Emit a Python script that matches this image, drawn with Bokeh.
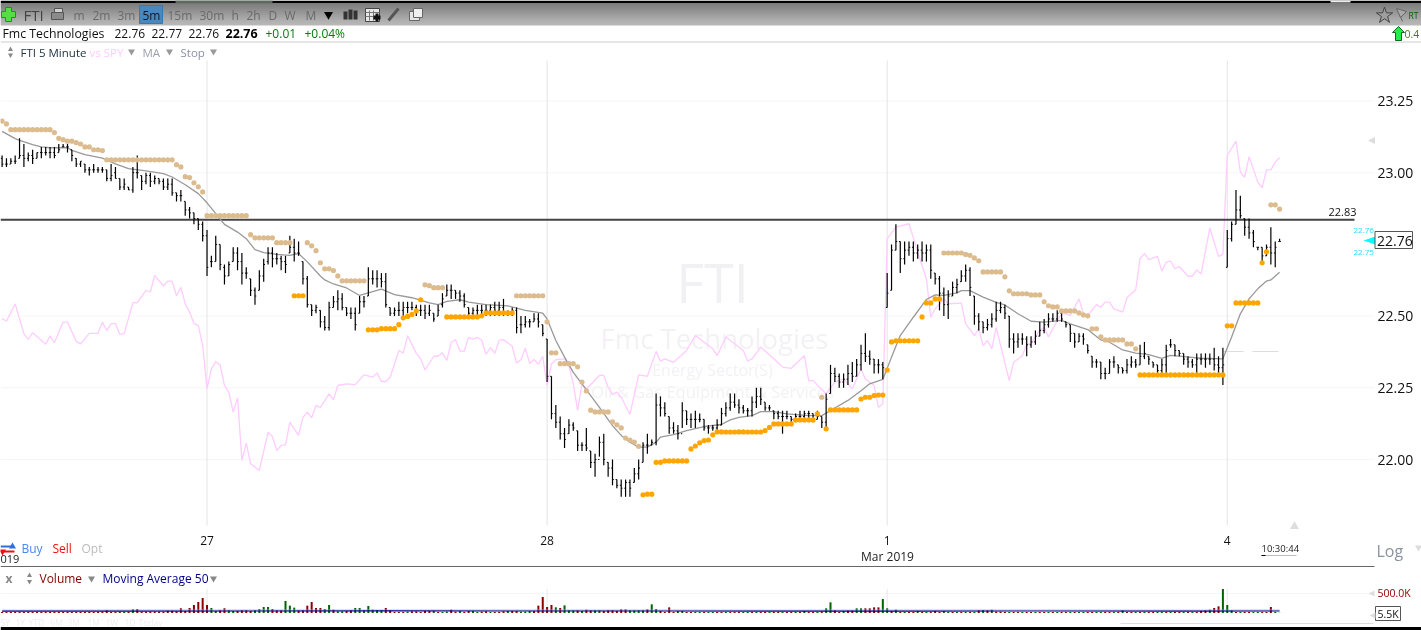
from bokeh.plotting import figure
from bokeh.models import Range1d, LinearAxis, FixedTicker, NumeralTickFormatter
from bokeh.core.properties import value
from bokeh.embed import file_html
from bokeh.resources import INLINE

highs = [
23.06,23.05,23.05,23.06,23.12,23.10,23.07,23.08,23.07,23.09,
23.09,23.09,23.09,23.10,23.10,23.10,23.08,23.05,23.04,23.03,
23.02,23.03,23.02,23.02,23.01,23.03,23.02,22.98,22.98,22.95,
23.02,23.06,22.99,23.00,23.00,22.99,22.98,22.98,22.98,22.98,
22.93,22.94,22.90,22.88,22.86,22.84,22.83,22.80,22.71,22.78,
22.75,22.68,22.69,22.74,22.74,22.72,22.67,22.63,22.60,22.66,
22.70,22.74,22.74,22.72,22.71,22.71,22.78,22.77,22.76,22.69,
22.64,22.54,22.54,22.52,22.50,22.55,22.57,22.59,22.58,22.53,
22.53,22.53,22.57,22.57,22.67,22.66,22.66,22.65,22.65,22.53,
22.53,22.55,22.55,22.55,22.55,22.54,22.54,22.54,22.54,22.51,
22.54,22.58,22.61,22.61,22.59,22.59,22.58,22.53,22.53,22.54,
22.54,22.54,22.54,22.55,22.55,22.56,22.52,22.53,22.53,22.50,
22.50,22.49,22.51,22.51,22.47,22.42,22.29,22.19,22.15,22.11,
22.14,22.13,22.10,22.06,22.11,22.03,22.02,22.08,22.09,21.99,
22.00,21.93,21.93,21.93,21.93,21.97,22.00,22.06,22.09,22.07,
22.23,22.22,22.20,22.15,22.13,22.12,22.20,22.17,22.16,22.17,
22.16,22.14,22.12,22.12,22.14,22.18,22.20,22.23,22.23,22.21,
22.19,22.18,22.22,22.25,22.25,22.20,22.19,22.17,22.17,22.17,
22.17,22.15,22.16,22.17,22.17,22.17,22.16,22.17,22.15,22.23,
22.33,22.32,22.30,22.30,22.33,22.34,22.35,22.40,22.44,22.38,
22.35,22.35,22.34,22.65,22.75,22.82,22.76,22.76,22.76,22.76,
22.75,22.76,22.75,22.75,22.65,22.64,22.60,22.59,22.62,22.63,
22.66,22.68,22.67,22.57,22.51,22.48,22.49,22.51,22.55,22.55,
22.54,22.50,22.44,22.44,22.44,22.43,22.43,22.45,22.48,22.49,
22.51,22.51,22.52,22.52,22.48,22.47,22.44,22.44,22.44,22.40,
22.36,22.35,22.34,22.32,22.35,22.36,22.33,22.32,22.35,22.36,
22.35,22.40,22.41,22.36,22.34,22.33,22.35,22.40,22.42,22.40,
22.38,22.37,22.36,22.35,22.37,22.37,22.37,22.37,22.39,22.36,
22.39,22.80,22.83,22.94,22.92,22.84,22.84,22.80,22.74,22.74,
22.75,22.81,22.76,22.77]

lows = [
23.02,23.02,23.03,23.03,23.05,23.02,23.04,23.03,23.05,23.05,
23.06,23.05,23.05,23.07,23.09,23.07,23.04,23.02,23.02,23.00,
22.99,23.00,23.00,23.00,22.97,22.97,22.98,22.94,22.94,22.94,
22.93,22.98,22.94,22.96,22.95,22.96,22.96,22.94,22.94,22.92,
22.90,22.90,22.85,22.84,22.82,22.80,22.76,22.64,22.67,22.69,
22.66,22.61,22.64,22.69,22.66,22.61,22.63,22.57,22.54,22.59,
22.62,22.68,22.67,22.68,22.66,22.65,22.72,22.69,22.71,22.61,
22.53,22.50,22.51,22.46,22.45,22.45,22.53,22.52,22.52,22.50,
22.49,22.45,22.51,22.53,22.57,22.61,22.60,22.60,22.53,22.50,
22.50,22.50,22.49,22.51,22.52,22.50,22.50,22.49,22.50,22.48,
22.50,22.53,22.57,22.56,22.56,22.55,22.53,22.50,22.49,22.50,
22.50,22.50,22.50,22.50,22.50,22.50,22.50,22.50,22.44,22.44,
22.46,22.46,22.48,22.46,22.43,22.27,22.14,22.11,22.07,22.04,
22.09,22.10,22.03,22.03,22.03,21.97,21.94,22.01,21.98,21.94,
21.91,21.90,21.87,21.87,21.87,21.92,21.93,21.99,22.02,22.05,
22.05,22.15,22.15,22.09,22.09,22.07,22.11,22.12,22.11,22.11,
22.13,22.10,22.09,22.10,22.10,22.12,22.15,22.17,22.18,22.16,
22.16,22.15,22.15,22.18,22.19,22.17,22.17,22.14,22.14,22.09,
22.14,22.12,22.13,22.14,22.14,22.14,22.13,22.14,22.11,22.11,
22.23,22.27,22.25,22.25,22.26,22.27,22.29,22.31,22.34,22.33,
22.30,22.30,22.28,22.53,22.59,22.73,22.65,22.68,22.71,22.69,
22.70,22.69,22.69,22.63,22.61,22.52,22.50,22.49,22.57,22.58,
22.62,22.62,22.57,22.47,22.45,22.44,22.45,22.46,22.48,22.51,
22.49,22.39,22.37,22.39,22.40,22.36,22.39,22.40,22.43,22.44,
22.46,22.48,22.48,22.48,22.46,22.41,22.39,22.41,22.40,22.37,
22.32,22.32,22.28,22.28,22.30,22.32,22.30,22.30,22.30,22.32,
22.32,22.33,22.35,22.33,22.32,22.29,22.29,22.30,22.39,22.36,
22.36,22.33,22.32,22.32,22.30,22.33,22.32,22.33,22.31,22.30,
22.26,22.67,22.76,22.82,22.84,22.78,22.77,22.74,22.73,22.68,
22.71,22.68,22.67,22.76]

closes = [
23.03,23.03,23.04,23.04,23.06,23.05,23.06,23.05,23.07,23.07,
23.07,23.07,23.06,23.08,23.09,23.09,23.06,23.03,23.04,23.01,
23.01,23.01,23.01,23.01,22.98,22.99,22.98,22.95,22.96,22.94,
23.00,23.00,22.97,22.99,22.97,22.98,22.97,22.95,22.96,22.93,
22.92,22.92,22.87,22.86,22.84,22.82,22.78,22.67,22.69,22.75,
22.68,22.64,22.68,22.72,22.69,22.65,22.65,22.59,22.57,22.64,
22.68,22.72,22.70,22.70,22.69,22.68,22.74,22.72,22.72,22.63,
22.54,22.52,22.53,22.48,22.46,22.53,22.55,22.56,22.53,22.51,
22.51,22.47,22.55,22.55,22.63,22.63,22.63,22.62,22.54,22.51,
22.52,22.52,22.53,22.53,22.53,22.52,22.52,22.51,22.52,22.49,
22.52,22.56,22.59,22.59,22.58,22.57,22.54,22.51,22.52,22.52,
22.52,22.52,22.53,22.52,22.53,22.51,22.51,22.52,22.46,22.47,
22.48,22.48,22.49,22.48,22.44,22.29,22.16,22.13,22.09,22.07,
22.12,22.11,22.05,22.05,22.04,21.99,22.00,22.06,22.00,21.97,
21.93,21.91,21.90,21.92,21.90,21.95,21.97,22.05,22.05,22.06,
22.19,22.18,22.16,22.11,22.10,22.09,22.17,22.14,22.14,22.14,
22.14,22.11,22.11,22.11,22.12,22.16,22.18,22.20,22.19,22.18,
22.17,22.17,22.20,22.22,22.21,22.18,22.18,22.16,22.15,22.15,
22.15,22.14,22.15,22.15,22.16,22.16,22.14,22.15,22.13,22.21,
22.30,22.29,22.27,22.28,22.30,22.29,22.33,22.37,22.36,22.35,
22.33,22.33,22.32,22.58,22.73,22.76,22.70,22.73,22.74,22.72,
22.73,22.72,22.73,22.66,22.63,22.58,22.54,22.57,22.60,22.61,
22.64,22.66,22.60,22.50,22.48,22.46,22.47,22.49,22.52,22.53,
22.51,22.42,22.41,22.42,22.42,22.40,22.41,22.43,22.45,22.47,
22.49,22.49,22.51,22.49,22.47,22.44,22.41,22.43,22.42,22.38,
22.34,22.34,22.30,22.30,22.34,22.34,22.32,22.31,22.33,22.34,
22.33,22.36,22.37,22.35,22.33,22.31,22.33,22.38,22.40,22.38,
22.37,22.35,22.34,22.33,22.35,22.35,22.35,22.35,22.33,22.32,
22.33,22.77,22.82,22.87,22.85,22.81,22.79,22.76,22.74,22.71,
22.74,22.72,22.74,22.76]

opens = [
23.05,23.03,23.03,23.04,23.05,23.06,23.05,23.06,23.05,23.07,
23.07,23.07,23.07,23.07,23.09,23.09,23.08,23.05,23.03,23.03,
23.01,23.01,23.01,23.01,23.01,22.98,23.00,22.98,22.95,22.95,
22.94,23.00,22.99,22.97,22.99,22.97,22.98,22.97,22.95,22.96,
22.93,22.92,22.90,22.87,22.86,22.84,22.82,22.78,22.69,22.69,
22.75,22.67,22.64,22.69,22.72,22.69,22.65,22.63,22.59,22.59,
22.64,22.69,22.72,22.70,22.70,22.69,22.72,22.74,22.72,22.69,
22.63,22.54,22.52,22.52,22.48,22.46,22.53,22.55,22.56,22.53,
22.51,22.51,22.51,22.55,22.57,22.63,22.63,22.63,22.62,22.53,
22.51,22.52,22.52,22.53,22.53,22.53,22.52,22.52,22.51,22.51,
22.50,22.54,22.57,22.59,22.59,22.58,22.57,22.53,22.51,22.52,
22.52,22.52,22.52,22.53,22.52,22.53,22.51,22.51,22.52,22.47,
22.47,22.48,22.48,22.49,22.47,22.42,22.29,22.16,22.13,22.09,
22.09,22.12,22.10,22.05,22.05,22.03,21.99,22.00,22.06,21.99,
21.97,21.93,21.91,21.90,21.92,21.92,21.95,21.99,22.05,22.05,
22.06,22.19,22.18,22.15,22.11,22.10,22.09,22.17,22.14,22.14,
22.14,22.14,22.11,22.11,22.11,22.12,22.16,22.18,22.20,22.19,
22.18,22.17,22.17,22.20,22.22,22.20,22.18,22.17,22.16,22.15,
22.15,22.15,22.14,22.15,22.15,22.16,22.16,22.14,22.15,22.13,
22.23,22.30,22.29,22.27,22.28,22.30,22.29,22.33,22.37,22.36,
22.35,22.33,22.33,22.53,22.59,22.73,22.76,22.70,22.73,22.74,
22.72,22.73,22.72,22.73,22.65,22.63,22.58,22.54,22.57,22.60,
22.62,22.64,22.66,22.57,22.50,22.48,22.46,22.47,22.49,22.52,
22.53,22.50,22.42,22.41,22.42,22.42,22.40,22.41,22.43,22.45,
22.47,22.49,22.49,22.51,22.48,22.47,22.44,22.41,22.43,22.40,
22.36,22.34,22.34,22.30,22.30,22.34,22.33,22.32,22.31,22.33,
22.34,22.33,22.36,22.36,22.34,22.33,22.31,22.33,22.40,22.40,
22.38,22.37,22.35,22.34,22.33,22.35,22.35,22.35,22.35,22.33,
22.32,22.67,22.77,22.82,22.87,22.84,22.81,22.79,22.74,22.74,
22.71,22.74,22.72,22.76]

# stop dots, as runs of (first bar, last bar, stop price)
tan_runs = [(0,0,23.18),(1,1,23.17),(2,11,23.15),(12,12,23.14),(13,13,23.12),(14,14,23.115),(15,16,23.11),(17,17,23.105),
(18,18,23.10),(19,20,23.09),(21,22,23.08),(23,23,23.077),(24,39,23.045),(40,40,23.028),(41,41,23.02),(42,42,22.986),(43,43,22.983),
(44,44,22.965),(45,45,22.951),(46,46,22.933),(47,56,22.85),(57,57,22.784),(58,62,22.773),(63,66,22.756),(70,70,22.756),(71,71,22.745),
(72,72,22.728),(73,73,22.686),(74,75,22.665),(76,76,22.659),(77,77,22.64),(78,83,22.623),(97,97,22.609),(98,98,22.606),(99,101,22.599),
(118,124,22.571),(125,125,22.48),(126,127,22.372),(128,131,22.334),(132,132,22.323),(133,133,22.27),(134,134,22.239),(135,135,22.172),
(136,139,22.166),(140,140,22.131),(141,141,22.121),(142,142,22.11),(143,143,22.075),(144,144,22.068),(145,145,22.061),(146,146,22.046),
(188,188,22.217),(216,220,22.72),(221,221,22.715),(222,222,22.712),(223,223,22.703),(224,224,22.693),(225,229,22.654),(230,230,22.637),
(231,231,22.588),(232,235,22.578),(236,238,22.574),(239,239,22.55),(240,240,22.536),(241,242,22.532),(243,246,22.518),(247,247,22.511),
(248,248,22.504),(249,249,22.501),(250,251,22.456),(252,252,22.428),(253,257,22.417),(258,259,22.403),(260,260,22.386),(291,292,22.888),(293,293,22.873)]
orange_runs = [(67,69,22.571),(84,86,22.452),(87,90,22.456),(91,91,22.47),(92,92,22.494),(93,93,22.499),(94,94,22.506),(95,95,22.518),(96,96,22.557),
(102,109,22.497),(110,110,22.501),(111,117,22.511),(147,147,21.877),(148,149,21.879),(150,151,21.99),(152,157,21.995),(158,158,22.037),(159,159,22.047),
(160,160,22.058),(161,161,22.066),(162,162,22.068),(163,163,22.086),(164,174,22.096),(175,175,22.101),(176,176,22.112),(177,181,22.124),(182,186,22.138),
(187,187,22.159),(189,189,22.107),(190,196,22.173),(197,197,22.211),(198,199,22.217),(200,200,22.223),(201,202,22.225),(203,203,22.312),(204,204,22.41),
(205,210,22.414),(211,211,22.497),(212,213,22.546),(214,215,22.56),(261,280,22.295),(281,282,22.466),(283,288,22.546),(289,289,22.686),(290,290,22.724)]

ma_idx = [0,3,4,7,9,11,15,16,19,23,26,29,33,37,39,42,45,47,49,51,54,56,58,60,63,66,68,70,73,74,76,79,82,84,87,90,94,98,100,102,105,107,111,116,120,124,125,127,129,131,133,135,137,140,142,144,146,148,150,151,154,157,161,165,167,169,172,174,177,180,185,188,190,194,197,199,202,204,206,209,212,214,216,219,220,222,225,228,230,233,236,239,243,245,249,252,254,257,260,263,266,268,271,275,280,282,284,286,288,290,291,293]
ma_val = [23.144,23.119,23.113,23.098,23.090,23.087,23.087,23.078,23.063,23.051,23.031,23.014,23.006,22.997,22.985,22.958,22.927,22.895,22.857,22.820,22.793,22.770,22.732,22.721,22.715,22.712,22.718,22.689,22.640,22.626,22.612,22.598,22.572,22.581,22.594,22.575,22.564,22.546,22.540,22.551,22.557,22.549,22.540,22.536,22.520,22.510,22.490,22.415,22.357,22.304,22.264,22.223,22.182,22.118,22.084,22.060,22.043,22.043,22.060,22.078,22.087,22.101,22.115,22.122,22.138,22.147,22.153,22.167,22.167,22.159,22.153,22.153,22.171,22.206,22.240,22.264,22.279,22.357,22.432,22.496,22.558,22.574,22.572,22.581,22.589,22.589,22.566,22.548,22.539,22.508,22.482,22.479,22.485,22.473,22.453,22.417,22.409,22.382,22.371,22.366,22.353,22.363,22.359,22.353,22.351,22.427,22.508,22.560,22.595,22.622,22.626,22.653]

spy_idx = [0,1,3,5,6,7,10,11,12,14,15,17,18,20,22,23,24,25,26,27,28,30,31,33,34,35,37,38,39,40,41,42,43,44,45,46,47,48,49,50,51,52,53,54,55,56,57,59,61,62,63,64,65,66,68,69,70,71,72,73,75,76,77,79,81,83,85,86,87,88,89,91,92,93,95,96,97,99,100,101,102,103,104,105,106,107,108,109,110,111,112,113,114,115,117,118,119,120,121,122,123,124,125,126,127,129,130,131,132,133,134,137,138,139,140,141,142,144,146,148,150,151,152,154,157,159,163,164,166,170,171,172,174,177,179,181,182,184,185,186,189,191,193,195,197,198,200,201,202,203,205,208,210,212,213,214,216,217,220,221,223,224,225,226,227,228,231,232,234,235,236,238,239,240,242,243,244,245,247,248,249,251,252,253,254,255,257,258,260,261,262,263,265,266,267,268,269,270,272,273,274,275,277,279,280,281,283,284,285,286,288,289,290,291,292,293]
spy_val = [22.491,22.483,22.542,22.439,22.419,22.442,22.402,22.431,22.407,22.479,22.479,22.412,22.403,22.440,22.440,22.479,22.450,22.474,22.474,22.436,22.439,22.547,22.547,22.590,22.584,22.642,22.605,22.622,22.622,22.571,22.600,22.543,22.514,22.474,22.468,22.398,22.246,22.316,22.341,22.33,22.258,22.235,22.165,22.215,21.997,22.057,21.985,21.962,22.095,22.080,22.031,22.049,22.051,22.130,22.084,22.147,22.165,22.145,22.188,22.182,22.229,22.208,22.258,22.264,22.261,22.295,22.287,22.302,22.272,22.272,22.287,22.380,22.371,22.432,22.370,22.351,22.312,22.360,22.360,22.372,22.345,22.409,22.418,22.378,22.378,22.426,22.420,22.426,22.416,22.367,22.390,22.370,22.415,22.418,22.395,22.336,22.348,22.388,22.335,22.349,22.332,22.360,22.258,22.333,22.348,22.351,22.328,22.264,22.171,22.264,22.246,22.293,22.293,22.252,22.226,22.235,22.217,22.157,22.295,22.290,22.377,22.343,22.351,22.339,22.380,22.432,22.386,22.362,22.427,22.380,22.343,22.351,22.392,22.351,22.322,22.318,22.333,22.362,22.275,22.275,22.229,22.270,22.281,22.246,22.316,22.281,22.258,22.182,22.194,22.769,22.810,22.822,22.723,22.630,22.496,22.525,22.560,22.543,22.545,22.473,22.432,22.456,22.397,22.415,22.386,22.461,22.275,22.339,22.362,22.403,22.403,22.450,22.461,22.427,22.485,22.508,22.508,22.502,22.560,22.508,22.502,22.540,22.531,22.549,22.549,22.525,22.514,22.564,22.592,22.700,22.719,22.697,22.708,22.657,22.688,22.692,22.665,22.673,22.639,22.639,22.661,22.647,22.807,22.708,22.715,23.060,23.110,23.002,22.984,23.056,22.967,22.947,23.010,23.010,23.037,23.052]

# volume, thousands of shares
volumes = [
25,25,25,25,25,25,25,25,25,25, 25,25,25,25,25,25,25,25,25,25,
25,25,25,34,68,25,25,34,34,34, 94,102,34,34,34,34,34,34,60,60,
43,120,51,128,205,282,385,205,128,51, 68,120,68,51,51,68,68,51,68,102,
154,154,102,68,68,308,188,137,68,68, 188,282,128,128,102,205,85,43,43,51,
68,128,128,68,180,85,77,77,128,68, 25,25,25,34,43,43,25,51,51,51,
25,25,34,85,34,51,25,51,51,25, 34,43,25,25,25,43,51,51,51,34,
34,51,51,188,410,154,205,145,128,196, 68,68,68,51,85,68,68,68,51,68,
68,51,94,94,68,68,68,68,94,222, 102,51,25,145,25,51,51,25,25,25,
25,25,25,25,25,25,25,25,25,25, 25,25,25,25,25,25,25,25,25,25,
25,25,25,25,51,25,25,25,34,120, 273,68,25,51,60,60,120,120,120,120,
145,145,358,120,51,85,25,25,25,25, 51,25,25,25,51,25,51,25,25,25,
25,25,25,25,68,77,68,85,34,34, 25,25,25,25,25,25,25,25,25,25,
25,25,25,25,25,25,25,25,25,25, 25,25,25,25,25,25,25,68,25,25,
25,25,25,25,25,25,25,25,25,25, 25,25,25,25,25,51,68,85,128,171,
615,205,68,25,25,25,25,25,25,25, 25,154,25,5.5]
vol_dirs = ("rrrrrrrrrr" "rrrrrrrrrr" "rrrrrrrrgr" "grrrrrrrrr" "rrrrrrrrgg" "rrggrrrrgg" "ggrrrgggrr" "rrrrggrggr"
            "rgggggggrr" "rrrgrrrrrg" "rggrrgrrgg" "rrgrrrgrrg" "ggrrrrrgrg" "ggrgrrggrr" "rrrrggggrg" "grrrrggrrg"
            "grggrrgrrr" "ggrgrrgrrg" "rrgrgrrgrg" "grrgrrggrr" "rrggrgrgrr" "grgrrrggrg" "rgrgrgrgrr" "rgrrgrrgrr"
            "grgrrgrggr" "rggrrgrgrr" "grgrrggrgr" "rgrgrrrgrr" "gggrgrrggr" "rrgg")
vol_ma_idx = [0,30,60,90,120,150,180,210,240,270,293]
vol_ma_val = [48,49,52,55,52,50,47,49,50,48,50]

price_ticks = [22.00, 22.25, 22.50, 23.00, 23.25]
day_bars = [47, 125, 203, 281]
day_labels = ["27", "28", "1", "4"]
level = 22.836
level_label = "22.83"
last_label = "22.76"
top_vals = ["22.76", "22.77", "22.76"]

PX_PER_BAR, PX0 = 4.36, 1.6
PX_PER_USD = 286.8
W, H = 1421, 630
FONT = "Open Sans"
def bar_at(px): return (px - PX0) / PX_PER_BAR
def price_at(py): return 22 + (459 - py) / PX_PER_USD

p = figure(width=W, height=H, output_backend="svg", toolbar_location=None,
           x_range=Range1d(bar_at(0), bar_at(W)), y_range=Range1d(price_at(H), price_at(0)),
           x_axis_location="below", y_axis_location="right", min_border=0,
           outline_line_color=None, background_fill_color="white")
p.styles = {"position": "fixed", "left": "0", "top": "0"}
p.grid.visible = False
p.extra_x_ranges["px"] = Range1d(0, W)
p.extra_y_ranges["py"] = Range1d(H, 0)
p.extra_y_ranges["vol"] = Range1d((612.5 - H) * 25.64, 612.5 * 25.64)
PX = dict(x_range_name="px", y_range_name="py")

def box(l, t, r, b, fill, line=None, lw=1):
    p.quad(left=[l], right=[r], top=[t], bottom=[b], fill_color=fill, line_color=line, line_width=lw, **PX)
def hline(x0, x1, y, color, lw=1):
    p.segment(x0=[x0], x1=[x1], y0=[y], y1=[y], line_color=color, line_width=lw, **PX)
def lab(x, y, txt, size, color, style="normal", align="left", font=FONT):
    p.text(x=[x], y=[y], text=[txt], text_font=value(font), text_font_size=f"{size}px", text_color=color,
           text_font_style=style, text_align=align, text_baseline="middle", **PX)
def mark(x, y, size, color, marker="inverted_triangle", line=None):
    p.scatter(x=[x], y=[y], size=size, marker=marker, fill_color=color, line_color=line, **PX)
def left_tri(x, y, r, color):
    p.patch(x=[x - r, x + r, x + r], y=[y, y - r, y + r], fill_color=color, line_color=None, **PX)

# watermark
lab(712, 281, "FTI", 54, "#f1f1f3", align="center")
lab(714, 338, "Fmc Technologies", 27.5, "#f3f1f4", align="center")
lab(712, 369, "Energy Sector(S)", 16, "#f3f1f4", align="center")
lab(712, 391, "Oil & Gas Equipment & Services", 16.5, "#f3f1f4", align="center")

# grid
xmax = bar_at(1374)
p.segment(x0=[bar_at(0)] * len(price_ticks), x1=[xmax] * len(price_ticks), y0=price_ticks, y1=price_ticks,
          line_color="#f6f6f6", line_width=1)
p.segment(x0=day_bars, x1=day_bars, y0=[price_at(60)] * 4, y1=[price_at(525)] * 4, line_color="#e4e4e4", line_width=1)

# SPY comparison
p.line(spy_idx, spy_val, line_color="#ffccff", line_width=1.3)

# small dashed level after last open
p.segment(x0=[bar_at(1223), bar_at(1252)], x1=[bar_at(1243), bar_at(1278)], y0=[price_at(351)] * 2, y1=[price_at(351)] * 2,
          line_color="#dddddd", line_width=1)

# level
p.segment(x0=[bar_at(0)], x1=[bar_at(1354)], y0=[level], y1=[level], line_color="#444444", line_width=1.8)
lab(1328, 211, level_label, 11, "#111111")

# MA
p.line(ma_idx, ma_val, line_color="#999999", line_width=1.3)

# OHLC bars
idx = list(range(len(highs)))
p.segment(x0=idx, x1=idx, y0=lows, y1=highs, line_color="#000000", line_width=1.2)
p.segment(x0=[i - 0.3 for i in idx], x1=idx, y0=opens, y1=opens, line_color="#000000", line_width=1)
p.segment(x0=idx, x1=[i + 0.3 for i in idx], y0=closes, y1=closes, line_color="#000000", line_width=1)

def expand(runs):
    xs, ys = [], []
    for a, b, v in runs:
        for i in range(a, b + 1):
            xs.append(i); ys.append(v)
    return xs, ys
tx, ty = expand(tan_runs)
ox, oy = expand(orange_runs)
p.scatter(tx, ty, size=5.2, fill_color="#dcbc8e", line_color=None)
p.scatter(ox, oy, size=5.2, fill_color="#ffa500", line_color=None)

# axes
yax = p.yaxis[0]
yax.ticker = FixedTicker(ticks=price_ticks)
yax.formatter = NumeralTickFormatter(format="0.00")
yax.fixed_location = bar_at(1374)
yax.axis_line_color = None
yax.major_tick_line_color = None
yax.minor_tick_line_color = None
yax.major_tick_out = 0
yax.minor_tick_out = 0
yax.major_label_standoff = 3
yax.major_label_text_font = FONT
yax.major_label_text_font_size = "14px"
yax.major_label_text_color = "#111111"

xax = p.xaxis[0]
xax.ticker = FixedTicker(ticks=day_bars)
xax.major_label_overrides = dict(zip(day_bars, day_labels))
xax.fixed_location = price_at(532)
xax.axis_line_color = None
xax.major_tick_line_color = None
xax.minor_tick_line_color = None
xax.major_tick_out = 0
xax.minor_tick_out = 0
xax.major_label_standoff = 3
xax.major_label_text_font = FONT
xax.major_label_text_font_size = "12px"
xax.major_label_text_color = "#111111"
lab(887, 556, "Mar 2019", 12, "#222222", align="center")

# bottom of price pane
lab(1261, 548, "10:30:44", 9.5, "#222222")
hline(1261, 1296, 555, "#bbbbbb", 1)
hline(1261, 1265, 555, "#000000", 1)
mark(1294, 526, 9, "#dddddd", "triangle")
lab(1376, 550, "Log", 16, "#8a93a0")
mark(1418, 547, 7, "#dddddd")
lab(0, 558, "019", 11, "#222222")
box(0, 540, 70, 554.5, "white")
# swap icon
hline(0, 11, 546, "#2f6fe0", 2)
mark(12, 546, 7, "#2f6fe0", "triangle")
hline(3, 14, 551, "#ee1111", 2)
mark(2, 551, 7, "#ee1111", "inverted_triangle")
lab(21, 548, "Buy", 12, "#4a86f0")
lab(52, 548, "Sell", 12, "#f01010")
lab(81, 548, "Opt", 12, "#bbbbbb")

# current price
lab(1353, 230, "22.76", 8, "#22ddff")
lab(1353, 252, "22.75", 8, "#22ddff")
p.patch(x=[1363, 1375, 1375], y=[240, 236, 244], fill_color="#00ffff", line_color=None, **PX)
box(1374.5, 231, 1412, 248, "white", "#555555", 1)
lab(1376.5, 240, last_label, 14, "#111111")
left_tri(1371, 140, 3.5, "#dddddd")

# volume pane
hline(0, 1374, 566, "#666666", 1)
vol_r = [i for i, d in zip(idx, vol_dirs) if d == "r"]
vol_g = [i for i, d in zip(idx, vol_dirs) if d == "g"]
p.segment(x0=[bar_at(0)], x1=[xmax], y0=[500], y1=[500], line_color="#f6f6f6", y_range_name="vol")
p.segment(x0=day_bars, x1=day_bars, y0=[0] * 4, y1=[620] * 4, line_color="#e8e8e8", y_range_name="vol")
p.vbar(x=vol_r, top=[volumes[i] for i in vol_r], width=0.46, bottom=0, fill_color="#8b0000", line_color=None, y_range_name="vol")
p.vbar(x=vol_g, top=[volumes[i] for i in vol_g], width=0.46, bottom=0, fill_color="#006400", line_color=None, y_range_name="vol")
p.line(vol_ma_idx, [v + 25 for v in vol_ma_val], line_color="#aaaadd", line_width=1.5, line_alpha=0.5, y_range_name="vol")
p.line(vol_ma_idx, vol_ma_val, line_color="#00008b", line_width=1.1, y_range_name="vol")
vax = LinearAxis(y_range_name="vol", ticker=FixedTicker(ticks=[500]), major_label_overrides={500: "500.0K"},
                 fixed_location=bar_at(1374), axis_line_color=None, major_tick_line_color=None, minor_tick_line_color=None,
                 major_tick_out=0, minor_tick_out=0,
                 major_label_standoff=3, major_label_text_font=FONT, major_label_text_font_size="10.5px",
                 major_label_text_color="#8b0000")
p.add_layout(vax, "right")
left_tri(1371, 593, 3, "#dddddd")
box(1375, 606, 1400, 620, "white", "#555555", 1)
lab(1377, 613, "5.5K", 10.5, "#111111")
left_tri(1372, 615, 3, "#dddddd")
lab(5, 578, "x", 12, "#888888", "bold")
lab(39, 578, "Volume", 12, "#800000")
lab(102, 578, "Moving Average 50", 12, "#00008b")
for tx_ in (91, 213):
    mark(tx_, 578, 7, "#888888")
mark(29, 575, 5, "#888888", "triangle")
mark(29, 581, 5, "#888888")
for xl, tl in zip([0, 15, 28, 50, 67, 87, 105, 124, 138], ["5Y", "1Y", "YTD", "6M", "3M", "1M", "1W", "1D", "Today"]):
    lab(xl, 622, tl, 8.5, "#eeeeee")
hline(1120, 1373, 623, "#dddddd", 1)
box(0, 626.5, W, H, "black")

# top bands
box(0, 0, W, 3, "black")
box(175, 0, 272, 3, "#5c6a5c")
box(1330, 0, 1350, 2, "#eeeeee")
band_colors = ["#7d7d7d", "#808080", "#838383", "#868686", "#898989", "#8c8c8c", "#8f8f8f", "#929292", "#959595", "#989898", "#9b9b9b",
               "#9e9e9e", "#a1a1a1", "#a4a4a4", "#a7a7a7", "#aaaaaa", "#adadad", "#b0b0b0", "#b2b2b2", "#b4b4b4", "#b6b6b6", "#b8b8b8"]
for k, c in enumerate(band_colors):
    box(0, 3 + k, W, 4.6 + k if k < 21 else 25, c)
box(139, 5, 162, 23, "#4a88bc", "#3d77a8")

# toolbar icons
p.patch(x=[5, 11, 11, 15, 15, 11, 11, 5, 5, 1, 1, 5], y=[7, 7, 11, 11, 17, 17, 21, 21, 17, 17, 11, 11],
        fill_color="#55dd44", line_color="#2c8a2c", **PX)
lab(23, 14, "FTI", 15, "#444444")
box(51, 12, 63, 19, "#8a8a8a", "#555555")
box(54, 8, 62, 12, "#cfcfcf", "#555555")
for t, x in zip(["m", "2m", "3m", "5m", "15m", "30m", "h", "2h", "D", "W", "M"],
                [73, 92, 117, 142, 167, 199, 231, 246, 268, 284, 305]):
    lab(x, 14.5, t, 12, "#101820" if t == "5m" else "#6a6a6a")
mark(328, 14, 9, "#000000")
box(343, 11, 347, 19, "#333333")
box(348, 9, 352, 19, "#333333")
box(353, 10, 357, 19, "#333333")
box(365, 8, 379, 21, "#e8e8e8", "#444444")
for gx in (369, 373):
    p.segment(x0=[gx], x1=[gx], y0=[10], y1=[20], line_color="#777777", **PX)
hline(365, 379, 12, "#777777")
hline(365, 379, 16, "#777777")
box(373, 15, 380, 19, "#111111")
box(375, 13, 378, 21, "#111111")
p.segment(x0=[388], x1=[398], y0=[20], y1=[8], line_color="#555555", line_width=3, **PX)
box(409, 11, 419, 20, "#e6e6e6", "#666666")
box(413, 8, 422, 17, "#f0f0f0", "#666666")
mark(1384, 15, 17, "#9e9e9e", "star", line="#444444")
p.segment(x0=[1397], x1=[1402], y0=[9], y1=[21], line_color="#666666", **PX)
p.patch(x=[1396, 1406, 1400], y=[8, 11, 17], fill_color="#aaaaaa", line_color="#666666", **PX)
lab(1408, 15, "RT", 8.5, "#006400")

# quote row
lab(2, 33, "Fmc Technologies", 12.3, "#111111")
for x, t in zip([114, 151, 188], top_vals):
    lab(x, 33, t, 12, "#111111")
lab(225, 33, last_label, 12.5, "#000000", "bold")
lab(265, 33, "+0.01", 12, "#0a7a0a")
lab(304, 33, "+0.04%", 12, "#0a7a0a")
p.patch(x=[1398, 1404, 1401, 1401, 1395, 1395, 1392], y=[26, 32, 32, 40, 40, 32, 32], fill_color="#22ee44", line_color="#116622", **PX)
lab(1404, 33, "0.4", 10.5, "#557700")
hline(0, W, 41.5, "#cccccc", 1)

# chart header row
mark(10, 49, 5, "#888888", "triangle")
mark(10, 54.5, 5, "#888888")
lab(20, 51.5, "FTI 5 Minute", 11.5, "#223344")
lab(89, 51.5, "vs SPY", 11.5, "#ffccff")
mark(131, 51, 7, "#999999")
lab(142, 51.5, "MA", 11.5, "#9aa0ac")
mark(169, 51, 7, "#999999")
lab(180, 51.5, "Stop", 11.5, "#8a90a0")
mark(213, 51, 7, "#999999")

open("out.html", "w").write(file_html(p, INLINE))
